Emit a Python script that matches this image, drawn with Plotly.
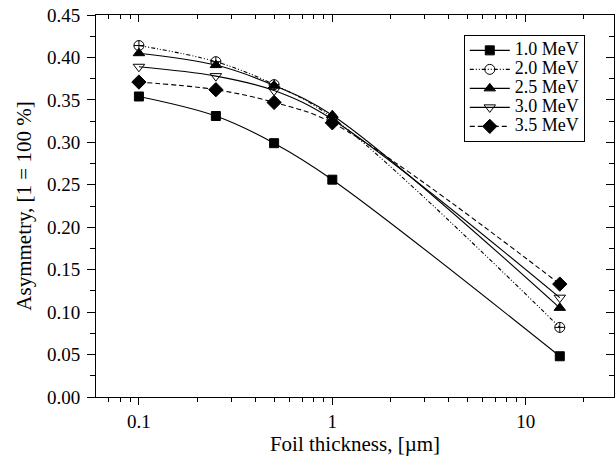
import numpy as np
import plotly.graph_objects as go

thickness = [0.1, 0.25, 0.5, 1.0, 15.0]
series_names = ["1.0 MeV", "2.0 MeV", "2.5 MeV", "3.0 MeV", "3.5 MeV"]
asym_10 = [0.354, 0.331, 0.299, 0.256, 0.048]
asym_20 = [0.414, 0.395, 0.368, 0.329, 0.082]
asym_25 = [0.405, 0.391, 0.367, 0.332, 0.105]
asym_30 = [0.389, 0.378, 0.361, 0.327, 0.117]
asym_35 = [0.371, 0.362, 0.347, 0.323, 0.133]
values = [asym_10, asym_20, asym_25, asym_30, asym_35]

styles = [
    dict(dash="solid", sym="square", legsym="square", size=9),
    dict(dash="4px,2px,1px,2px,1px,2px", sym="circle-cross-open", legsym="circle-open", size=10),
    dict(dash="solid", sym="triangle-up", legsym="triangle-up", size=10),
    dict(dash="solid", sym="triangle-down-open", legsym="triangle-down-open", size=10),
    dict(dash="5px,3px", sym="diamond", legsym="diamond", size=11),
]

font = "Liberation Serif"
fig = go.Figure()
for name, vals, st in zip(series_names, values, styles):
    fig.add_trace(go.Scatter(
        x=thickness, y=vals, mode="lines+markers", showlegend=False,
        line=dict(color="black", width=1.1, dash=st["dash"], shape="spline", smoothing=1.0),
        marker=dict(symbol=st["sym"], size=st["size"], color="black",
                    line=dict(color="black", width=1)),
    ))
for name, st in zip(series_names, styles):
    fig.add_trace(go.Scatter(
        x=[None], y=[None], mode="lines+markers",
        name='<span style="font-size:18px">%s</span>' % name,
        line=dict(color="black", width=1.1, dash=st["dash"]),
        marker=dict(symbol=st["legsym"], size=st["size"], color="black",
                    line=dict(color="black", width=1)),
    ))

xr = [np.log10(0.06), np.log10(28.6)]
yr = [0, 0.45]
minor_x = [0.07, 0.08, 0.09, 0.2, 0.3, 0.4, 0.5, 0.6, 0.7, 0.8, 0.9,
           2, 3, 4, 5, 6, 7, 8, 9, 20]
title_font = dict(family=font, size=21, color="black")
fig.update_layout(
    width=615, height=457,
    margin=dict(l=96, r=1, t=15, b=60),
    paper_bgcolor="white", plot_bgcolor="white",
    font=dict(family=font, size=19, color="black"),
    showlegend=True,
    legend=dict(x=0.71, y=0.948, xanchor="left", yanchor="top",
                bgcolor="white", bordercolor="black", borderwidth=1,
                font=dict(family=font, size=12), tracegroupgap=0,
                itemwidth=40),
    xaxis=dict(type="log", range=xr, showgrid=False, zeroline=False, automargin=False,
               showline=True, linecolor="black", linewidth=1,
               ticks="outside", ticklen=7, tickwidth=1, tickcolor="black",
               tickvals=[0.1, 1, 10], ticktext=["0.1", "1", "10"],
               minor=dict(ticks="outside", ticklen=4, tickcolor="black", tickvals=minor_x),
               title=dict(text="Foil thickness, [µm]", standoff=1, font=title_font),
               tickfont=dict(family=font, size=19)),
    yaxis=dict(range=yr, showgrid=False, zeroline=False, automargin=False,
               showline=True, linecolor="black", linewidth=1,
               ticks="outside", ticklen=8, tickwidth=1, tickcolor="black",
               dtick=0.05, tickformat=".2f", ticklabelstandoff=3,
               minor=dict(ticks="outside", ticklen=5, tickcolor="black", dtick=0.025),
               title=dict(text="Asymmetry, [1 = 100 %]", standoff=9, font=title_font),
               tickfont=dict(family=font, size=19)),
    xaxis2=dict(type="log", range=xr, overlaying="x", side="top", anchor="y", automargin=False,
                showgrid=False, zeroline=False, showline=True, linecolor="black",
                ticks="inside", ticklen=7, tickcolor="black", showticklabels=False,
                tickvals=[0.1, 1, 10],
                minor=dict(ticks="inside", ticklen=4, tickcolor="black", tickvals=minor_x)),
    yaxis2=dict(range=yr, overlaying="y", side="right", anchor="x", automargin=False,
                showgrid=False, zeroline=False, showline=True, linecolor="black",
                ticks="inside", ticklen=8, tickcolor="black", showticklabels=False,
                dtick=0.05,
                minor=dict(ticks="inside", ticklen=5, tickcolor="black", dtick=0.025)),
)
fig.add_trace(go.Scatter(x=[None], y=[None], xaxis="x2", yaxis="y2", showlegend=False, hoverinfo="skip"))
fig.write_html("out.html", config={"displayModeBar": False},
               post_script="document.body.style.margin='0px';document.body.style.overflow='hidden';")
